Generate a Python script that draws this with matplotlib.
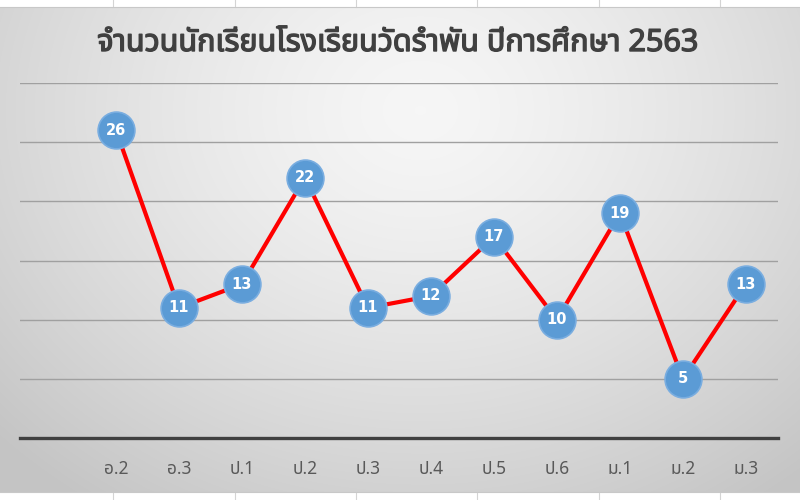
import numpy as np
import matplotlib
matplotlib.use("Agg")
import matplotlib.pyplot as plt
from matplotlib import font_manager
from matplotlib.lines import Line2D
import matplotlib.patheffects as pe

categories = ["อ.2", "อ.3", "ป.1", "ป.2", "ป.3", "ป.4", "ป.5", "ป.6", "ม.1", "ม.2", "ม.3"]
students = [26, 11, 13, 22, 11, 12, 17, 10, 19, 5, 13]
title = "จำนวนนักเรียนโรงเรียนวัดรำพัน ปีการศึกษา 2563"

# find a font covering Thai
thai_font = None
try:
    from fontTools.ttLib import TTFont
    cands = []
    for f in font_manager.fontManager.ttflist:
        try:
            tt = TTFont(f.fname, fontNumber=0, lazy=True)
            cmap = tt.getBestCmap()
            if cmap and 0x0E08 in cmap and 0x0E33 in cmap:
                cands.append(f.name)
        except Exception:
            pass
    pref = ["Noto Sans Thai", "Noto Sans Thai UI", "Tahoma", "Leelawadee", "Loma", "Garuda"]
    for p in pref:
        if p in cands:
            thai_font = p
            break
    if thai_font is None and cands:
        thai_font = cands[0]
except Exception:
    pass
families = ([thai_font] if thai_font else []) + ["DejaVu Sans"]
plt.rcParams["font.family"] = families

W, H = 800, 500
fig = plt.figure(figsize=(8, 5), dpi=100)

# background gradient for chart area (radial)
bg = fig.add_axes([0, 0, 1, 1], zorder=-10)
bg.set_axis_off()
yy, xx = np.mgrid[0:H, 0:W]
cx, cy = 420, 110
d = np.sqrt(((xx - cx) / 580.0) ** 2 + ((yy - cy) / 480.0) ** 2)
d = np.clip(d, 0, 1)
light, dark = 0.965, 0.77
g = light - (light - dark) * d ** 1.4
img = np.dstack([g, g, g])
img[:7, :, :] = 1.0
img[492:, :, :] = 1.0
bg.imshow(img, extent=[0, W, H, 0], aspect="auto", interpolation="bilinear")
bg.set_xlim(0, W)
bg.set_ylim(H, 0)
for xc in [113, 235, 356, 477, 599, 720]:
    bg.add_line(Line2D([xc, xc], [0, 7], color="#d4d4d4", lw=0.8))
    bg.add_line(Line2D([xc, xc], [492, 500], color="#d4d4d4", lw=0.8))
bg.add_line(Line2D([0, W], [7, 7], color="#c8c8c8", lw=0.8))
bg.add_line(Line2D([0, W], [492, 492], color="#c8c8c8", lw=0.8))

ax = fig.add_axes([20 / W, 62 / H, 758 / W, 355 / H])
ax.patch.set_alpha(0)
x = np.arange(len(categories))
ax.set_xlim(-1.524, 10.51)
ax.set_ylim(0, 30)
ax.set_yticks([5, 10, 15, 20, 25, 30])
ax.yaxis.grid(True, color="#a0a0a0", lw=1.0)
ax.set_axisbelow(True)
for s in ["top", "left", "right"]:
    ax.spines[s].set_visible(False)
ax.spines["bottom"].set_color("#404040")
ax.spines["bottom"].set_linewidth(2.4)
ax.tick_params(axis="y", left=False, labelleft=False)
ax.tick_params(axis="x", bottom=False, pad=12, labelsize=12.5, labelcolor="#595959")
ax.set_xticks(x)
ax.set_xticklabels(categories)

ax.plot(x, students, color="#ff0000", lw=3.0, zorder=3, clip_on=False)
ax.plot(x, students, ls="none", marker="o", markersize=26.5, markerfacecolor="#5b9bd5",
        markeredgecolor="#79ade0", markeredgewidth=1.2, zorder=4, clip_on=False)
for xi, v in zip(x, students):
    ax.text(xi, v, str(v), ha="center", va="center", color="white", fontsize=10.5,
            fontweight="bold", zorder=5, family=["DejaVu Sans"])

fig.text(398 / W, 1 - 43 / H, title, ha="center", va="center", fontsize=22,
         fontweight="bold", color="#404040",
         path_effects=[pe.withStroke(linewidth=1.0, foreground="#404040")])

fig.savefig("out.png", dpi=100)
